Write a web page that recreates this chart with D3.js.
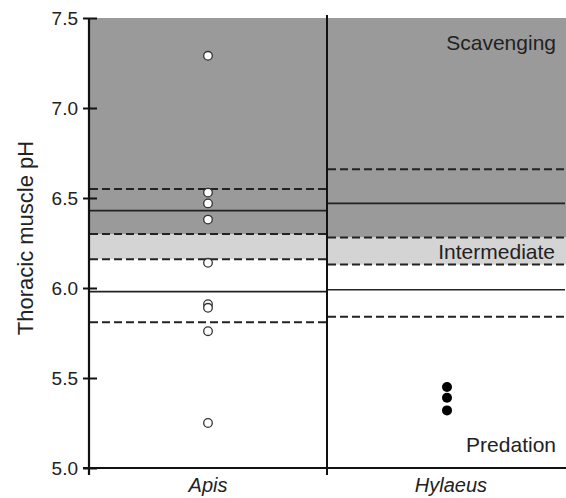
<!DOCTYPE html>
<html>
<head>
<meta charset="utf-8">
<script src="https://cdn.jsdelivr.net/npm/d3@7"></script>
<style>
  body { margin: 0; background: #fff; }
  text { font-family: "Liberation Sans", Arial, sans-serif; fill: #222; }
</style>
</head>
<body>
<svg></svg>
<script>
const width = 566;
const height = 498;
const margin = { top: 18, right: 0, bottom: 30, left: 89 };

const genera = ['Apis', 'Hylaeus'];
const yTicks = [5.0, 5.5, 6.0, 6.5, 7.0, 7.5];

// measured pH of individual bees
const apisPH = [7.29, 6.53, 6.47, 6.38, 6.14, 5.91, 5.89, 5.76, 5.25];
const hylaeusPH = [5.45, 5.39, 5.32];

// thresholds: [upper dashed, solid, lower dashed] for scavenging and predation
const scavengingLimits = { Apis: [6.55, 6.43, 6.30], Hylaeus: [6.66, 6.47, 6.28] };
const predationLimits = { Apis: [6.16, 5.98, 5.81], Hylaeus: [6.13, 5.99, 5.84] };

const svg = d3.select('svg')
  .attr('width', width)
  .attr('height', height);

// divider sits a bit left of center
const divider = 327;
const xLeft = g => g === 'Apis' ? margin.left : divider;
const xRight = g => g === 'Apis' ? divider : width;
const xMid = g => g === 'Apis' ? 208 : 451;

const y = d3.scaleLinear()
  .domain([5.0, 7.5])
  .range([468, margin.top]);

// shaded zones
genera.forEach(g => {
  svg.append('rect')
    .attr('x', xLeft(g))
    .attr('width', xRight(g) - xLeft(g))
    .attr('y', y(7.5))
    .attr('height', y(scavengingLimits[g][2]) - y(7.5))
    .attr('fill', '#9a9a9a');

  svg.append('rect')
    .attr('x', xLeft(g))
    .attr('width', xRight(g) - xLeft(g))
    .attr('y', y(scavengingLimits[g][2]))
    .attr('height', y(predationLimits[g][0]) - y(scavengingLimits[g][2]))
    .attr('fill', '#d4d4d4');

  const limits = scavengingLimits[g].concat(predationLimits[g]);
  limits.forEach((v, i) => {
    svg.append('line')
      .attr('x1', xLeft(g) + 1)
      .attr('x2', xRight(g) - 1)
      .attr('y1', y(v))
      .attr('y2', y(v))
      .attr('stroke', '#222')
      .attr('stroke-width', i % 3 === 1 ? 1.6 : 2)
      .attr('stroke-dasharray', i % 3 === 1 ? null : '8,4');
  });
});

// zone labels
svg.append('text')
  .attr('x', 556).attr('y', 50)
  .attr('text-anchor', 'end')
  .style('font-size', '21px')
  .text('Scavenging');

svg.append('text')
  .attr('x', 555).attr('y', 259)
  .attr('text-anchor', 'end')
  .style('font-size', '21px')
  .text('Intermediate');

svg.append('text')
  .attr('x', 556).attr('y', 452)
  .attr('text-anchor', 'end')
  .style('font-size', '21px')
  .text('Predation');

// divider between genera
svg.append('line')
  .attr('x1', divider).attr('x2', divider)
  .attr('y1', 15).attr('y2', 475)
  .attr('stroke', '#111')
  .attr('stroke-width', 2);

// points
svg.selectAll('.apis')
  .data(apisPH)
  .join('circle')
  .attr('cx', xMid('Apis'))
  .attr('cy', d => y(d))
  .attr('r', 4.3)
  .attr('fill', '#fff')
  .attr('stroke', '#333')
  .attr('stroke-width', 1.3);

svg.selectAll('.hylaeus')
  .data(hylaeusPH)
  .join('circle')
  .attr('cx', 447)
  .attr('cy', d => y(d))
  .attr('r', 5)
  .attr('fill', '#000');

// y axis
const yAxis = svg.append('g')
  .attr('transform', `translate(${margin.left},0)`)
  .call(d3.axisLeft(y).tickValues(yTicks).tickFormat(d3.format('.1f')).tickSize(6).tickPadding(4));
yAxis.select('.domain').remove();
yAxis.selectAll('.tick line')
  .attr('x1', -6).attr('x2', 8)
  .attr('stroke', '#111').attr('stroke-width', 2);
yAxis.selectAll('.tick text')
  .attr('x', -11)
  .style('font-size', '19px')
  .style('fill', '#222');

svg.append('line')
  .attr('x1', margin.left).attr('x2', margin.left)
  .attr('y1', y(7.5)).attr('y2', 475)
  .attr('stroke', '#111').attr('stroke-width', 2.2);

// x axis
svg.append('line')
  .attr('x1', margin.left - 6).attr('x2', width)
  .attr('y1', 468).attr('y2', 468)
  .attr('stroke', '#111').attr('stroke-width', 2.2);

svg.selectAll('.genus')
  .data(genera)
  .join('text')
  .attr('x', d => xMid(d))
  .attr('y', 492)
  .attr('text-anchor', 'middle')
  .style('font-size', '20px')
  .style('font-style', 'italic')
  .text(d => d);

svg.append('text')
  .attr('transform', `translate(33,238) rotate(-90)`)
  .attr('text-anchor', 'middle')
  .style('font-size', '22px')
  .text('Thoracic muscle pH');
</script>
</body>
</html>
